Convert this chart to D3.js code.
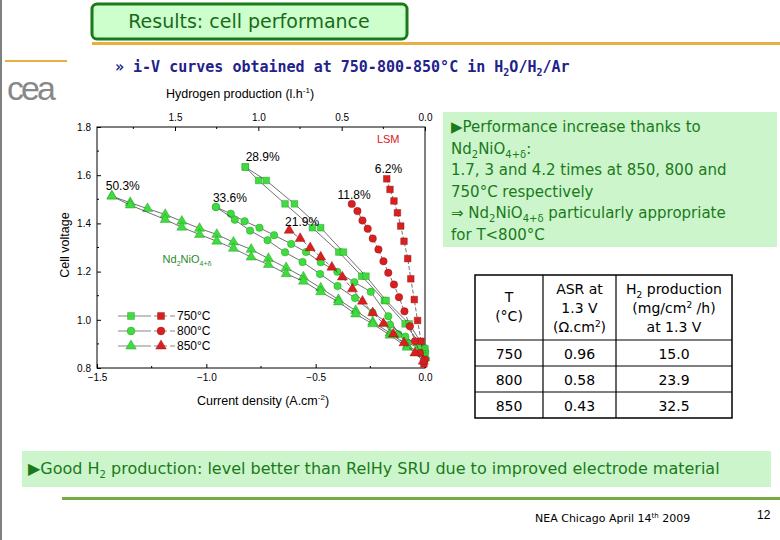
<!DOCTYPE html>
<html><head><meta charset="utf-8">
<script src="https://cdn.jsdelivr.net/npm/d3@7"></script>
<style>body{margin:0;background:#fff}</style>
</head><body><div id="slide"></div>
<script>
// data: [current density, cell voltage]
const nd750a = [[-0.822,1.634],[-0.761,1.578],[-0.640,1.481],[-0.515,1.382],[-0.394,1.281],[-0.289,1.181],[-0.186,1.080],[-0.091,0.983],[-0.008,0.883]];
const nd750b = [[-0.822,1.634],[-0.726,1.578],[-0.597,1.481],[-0.477,1.382],[-0.373,1.281],[-0.270,1.181],[-0.178,1.080],[-0.072,0.983],[0,0.88]];
const nd800a = [[-0.956,1.468],[-0.888,1.440],[-0.825,1.409],[-0.757,1.382],[-0.690,1.351],[-0.612,1.315],[-0.544,1.281],[-0.477,1.239],[-0.401,1.199],[-0.323,1.156],[-0.248,1.116],[-0.168,1.015],[-0.122,0.940],[-0.08,0.905],[0,0.87]];
const nd800b = [[-0.956,1.468],[-0.87,1.415],[-0.80,1.37],[-0.72,1.33],[-0.64,1.28],[-0.56,1.24],[-0.48,1.19],[-0.40,1.14],[-0.32,1.09],[-0.24,1.03],[-0.16,0.98],[-0.09,0.93],[-0.03,0.89],[0,0.86]];
const nd850a = [[-1.432,1.513],[-1.348,1.486],[-1.269,1.461],[-1.188,1.437],[-1.112,1.409],[-1.031,1.379],[-0.952,1.354],[-0.876,1.322],[-0.795,1.292],[-0.716,1.254],[-0.635,1.216],[-0.556,1.177],[-0.477,1.132],[-0.396,1.084],[-0.317,1.038],[-0.239,0.991],[-0.160,0.945],[-0.081,0.893],[0,0.85]];
const nd850b = [[-1.432,1.513],[-1.348,1.476],[-1.188,1.416],[-1.112,1.384],[-1.031,1.354],[-0.952,1.326],[-0.876,1.296],[-0.795,1.260],[-0.716,1.229],[-0.635,1.191],[-0.556,1.160],[-0.477,1.116],[-0.396,1.074],[-0.317,1.024],[-0.239,0.983],[-0.160,0.936],[-0.081,0.886],[0,0.842]];
const lsm750 = [[-0.175,1.585],[-0.160,1.541],[-0.142,1.493],[-0.126,1.444],[-0.111,1.389],[-0.096,1.326],[-0.079,1.254],[-0.065,1.170],[-0.049,1.084],[-0.034,0.997],[-0.018,0.911],[-0.005,0.817]];
const lsm800 = [[-0.335,1.481],[-0.309,1.451],[-0.286,1.412],[-0.262,1.378],[-0.239,1.337],[-0.213,1.292],[-0.190,1.243],[-0.168,1.195],[-0.142,1.146],[-0.119,1.094],[-0.094,1.035],[-0.069,0.973],[-0.046,0.911],[-0.023,0.862],[0,0.835]];
const lsm850 = [[-0.621,1.371],[-0.571,1.337],[-0.525,1.299],[-0.477,1.260],[-0.426,1.218],[-0.378,1.177],[-0.332,1.128],[-0.286,1.077],[-0.239,1.029],[-0.190,0.984],[-0.145,0.941],[-0.096,0.904],[-0.046,0.862],[-0.008,0.828]];
const pctLabels = [["28.9%",-0.82,1.66],["50.3%",-1.46,1.54],["33.6%",-0.97,1.49],["21.9%",-0.64,1.39],["11.8%",-0.40,1.50],["6.2%",-0.23,1.61]];
const tempLabels = ["750°C","800°C","850°C"];
const tableRows = [["750","0.96","15.0"],["800","0.58","23.9"],["850","0.43","32.5"]];

const W = 780, H = 540;
const GREEN = "#3fdc3f", GREEN_D = "#1f8f1f", RED = "#d92020", RED_D = "#8a1010";
const comic = "'Comic Sans MS','DejaVu Sans',sans-serif";

let svg = d3.select("#slide").append("svg").attr("width", W).attr("height", H)
  .style("font-family", "'Liberation Sans',Arial,sans-serif");

// slide decoration
svg.append("line").attr("x1",1).attr("x2",1).attr("y1",0).attr("y2",H).attr("stroke","#000");
svg.append("rect").attr("x",92).attr("y",4).attr("width",315).attr("height",35).attr("rx",5)
  .attr("fill","#ccffcc").attr("stroke","#1a7a1a").attr("stroke-width",3);
svg.append("text").attr("x",249).attr("y",28).attr("text-anchor","middle").attr("font-family",comic)
  .attr("font-size",19).attr("fill","#1a6a1a").text("Results: cell performance");
svg.append("rect").attr("x",92).attr("y",42).attr("width",688).attr("height",3).attr("fill","#e8b040");
svg.append("rect").attr("x",5).attr("y",60).attr("width",62).attr("height",2).attr("fill","#e8b040");
svg.append("text").attr("x",7).attr("y",100).attr("font-size",34).attr("fill","#888").attr("letter-spacing",-3).text("cea");
svg.append("text").attr("x",115).attr("y",72).attr("font-size",15).attr("font-weight","bold")
  .attr("font-family","'DejaVu Sans Mono',monospace").attr("fill","#22228a")
  .html('» i-V curves obtained at 750-800-850°C in H<tspan font-size="10" dy="4">2</tspan><tspan dy="-4">O/H</tspan><tspan font-size="10" dy="4">2</tspan><tspan dy="-4">/Ar</tspan>');

// chart
const x = d3.scaleLinear().domain([-1.5, 0]).range([97, 425]);
const y = d3.scaleLinear().domain([0.8, 1.8]).range([368, 127]);
const h2 = d3.scaleLinear().domain([0, 1.968]).range([425, 97]);

svg.append("rect").attr("x",97).attr("y",127).attr("width",328).attr("height",241)
  .attr("fill","none").attr("stroke","#000");
let fmt = d3.format(".1f");
let bx = svg.append("g").attr("transform","translate(0,368)")
  .call(d3.axisBottom(x).tickValues([-1.5,-1.0,-0.5,0]).tickFormat(fmt).tickSizeInner(-4).tickSizeOuter(0).tickPadding(6));
let tx = svg.append("g").attr("transform","translate(0,127)")
  .call(d3.axisTop(h2).tickValues([0,0.5,1.0,1.5]).tickFormat(fmt).tickSizeInner(-4).tickSizeOuter(0).tickPadding(6));
let ly = svg.append("g").attr("transform","translate(97,0)")
  .call(d3.axisLeft(y).tickValues([0.8,1.0,1.2,1.4,1.6,1.8]).tickFormat(fmt).tickSizeInner(-4).tickSizeOuter(0).tickPadding(6));
[bx, tx, ly].forEach(g => { g.select(".domain").remove(); g.selectAll("text").attr("font-size",10).attr("font-family","'Liberation Sans',Arial"); });
// minor ticks
svg.append("g").selectAll("line").data(d3.range(-1.25, 0, 0.5)).join("line")
  .attr("x1",d=>x(d)).attr("x2",d=>x(d)).attr("y1",368).attr("y2",366).attr("stroke","#000");
svg.append("g").selectAll("line").data([0.25,0.75,1.25,1.75]).join("line")
  .attr("x1",d=>h2(d)).attr("x2",d=>h2(d)).attr("y1",127).attr("y2",129).attr("stroke","#000");
svg.append("g").selectAll("line").data([0.9,1.1,1.3,1.5,1.7]).join("line")
  .attr("x1",97).attr("x2",99).attr("y1",d=>y(d)).attr("y2",d=>y(d)).attr("stroke","#000");

svg.append("text").attr("x",240).attr("y",98).attr("text-anchor","middle").attr("font-size",12.5)
  .html('Hydrogen production  (l.h<tspan font-size="8" dy="-5">-1</tspan><tspan dy="5">)</tspan>');
svg.append("text").attr("x",263).attr("y",405).attr("text-anchor","middle").attr("font-size",12.5)
  .html('Current density  (A.cm<tspan font-size="8" dy="-5">-2</tspan><tspan dy="5">)</tspan>');
svg.append("text").attr("transform","translate(69,245) rotate(-90)").attr("text-anchor","middle")
  .attr("font-size",12.5).text("Cell voltage");

const line = d3.line().x(d => x(d[0])).y(d => y(d[1]));
const series = [
  [nd750a, d3.symbolSquare, GREEN, GREEN_D, null],
  [nd750b, d3.symbolSquare, GREEN, GREEN_D, null],
  [nd800a, d3.symbolCircle, GREEN, GREEN_D, null],
  [nd800b, d3.symbolCircle, GREEN, GREEN_D, null],
  [nd850a, d3.symbolTriangle, GREEN, GREEN_D, null],
  [nd850b, d3.symbolTriangle, GREEN, GREEN_D, null],
  [lsm750, d3.symbolSquare, RED, RED_D, "4,2"],
  [lsm800, d3.symbolCircle, RED, RED_D, "4,2"],
  [lsm850, d3.symbolTriangle, RED, RED_D, "4,2"]
];
series.forEach(([data, sym, fill, stroke, dash]) => {
  svg.append("path").datum(data).attr("d", line).attr("fill","none")
    .attr("stroke","#333").attr("stroke-width",0.7).attr("stroke-dasharray", dash);
  svg.append("g").selectAll("path").data(data).join("path")
    .attr("d", d3.symbol(sym, 44))
    .attr("transform", d => `translate(${x(d[0])},${y(d[1])})`)
    .attr("fill", fill).attr("stroke", stroke).attr("stroke-width",0.4);
});

svg.append("g").selectAll("text").data(pctLabels).join("text")
  .attr("x", d => x(d[1])).attr("y", d => y(d[2])).attr("font-size",12).text(d => d[0]);
svg.append("text").attr("x",x(-0.22)).attr("y",y(1.735)).attr("font-size",11).attr("fill",RED).text("LSM");
svg.append("text").attr("x",x(-1.2)).attr("y",y(1.235)).attr("font-size",11).attr("fill","#2a8a2a")
  .html('Nd<tspan font-size="7" dy="3">2</tspan><tspan dy="-3">NiO</tspan><tspan font-size="7" dy="3">4+δ</tspan>');

// legend
const legSyms = [d3.symbolSquare, d3.symbolCircle, d3.symbolTriangle];
tempLabels.forEach((t, i) => {
  let ly0 = 316 + i * 15;
  svg.append("line").attr("x1",118).attr("x2",146).attr("y1",ly0).attr("y2",ly0).attr("stroke","#555").attr("stroke-width",0.7);
  svg.append("line").attr("x1",146).attr("x2",176).attr("y1",ly0).attr("y2",ly0).attr("stroke","#555").attr("stroke-width",0.7).attr("stroke-dasharray","5,3");
  svg.append("path").attr("d", d3.symbol(legSyms[i], 48)).attr("transform",`translate(131,${ly0})`).attr("fill",GREEN).attr("stroke",GREEN_D).attr("stroke-width",0.4);
  svg.append("path").attr("d", d3.symbol(legSyms[i], 48)).attr("transform",`translate(161,${ly0})`).attr("fill",RED).attr("stroke",RED_D).attr("stroke-width",0.4);
  svg.append("text").attr("x",177).attr("y",ly0+4).attr("font-size",12).text(t);
});

// right text box
svg.append("rect").attr("x",443).attr("y",112).attr("width",334).attr("height",135).attr("fill","#ccf5cc");
const boxLines = [
  '▶Performance increase thanks to',
  'Nd<tspan font-size="10" dy="4">2</tspan><tspan dy="-4">NiO</tspan><tspan font-size="10" dy="4">4+δ</tspan><tspan dy="-4">:</tspan>',
  '1.7, 3 and 4.2 times at 850, 800 and',
  '750°C respectively',
  '⇒ Nd<tspan font-size="10" dy="4">2</tspan><tspan dy="-4">NiO</tspan><tspan font-size="10" dy="4">4+δ</tspan><tspan dy="-4"> particularly appropriate</tspan>',
  'for T&lt;800°C'
];
boxLines.forEach((l, i) => svg.append("text").attr("x",451).attr("y",132 + i*21.5)
  .attr("font-family",comic).attr("font-size",15).attr("fill","#1a7a1a").html(l));

// table
const colX = [475, 543, 616, 732], rowY = [275, 340, 366, 392, 418];
let tg = svg.append("g").attr("font-family",comic).attr("font-size",14);
tg.append("rect").attr("x",475).attr("y",275).attr("width",257).attr("height",143).attr("fill","none").attr("stroke","#000").attr("stroke-width",1.5);
colX.slice(1,3).forEach(c => tg.append("line").attr("x1",c).attr("x2",c).attr("y1",275).attr("y2",418).attr("stroke","#000").attr("stroke-width",1.2));
rowY.slice(1,4).forEach(r => tg.append("line").attr("x1",475).attr("x2",732).attr("y1",r).attr("y2",r).attr("stroke","#000").attr("stroke-width",1.2));
const head = [
  ['T','(°C)'],
  ['ASR at','1.3 V','(Ω.cm<tspan font-size="9" dy="-5">2</tspan><tspan dy="5">)</tspan>'],
  ['H<tspan font-size="9" dy="4">2</tspan><tspan dy="-4"> production</tspan>','(mg/cm<tspan font-size="9" dy="-5">2</tspan><tspan dy="5"> /h)</tspan>','at 1.3 V']
];
head.forEach((h, c) => {
  let cx = (colX[c] + colX[c+1]) / 2, y0 = h.length === 2 ? 302 : 294;
  h.forEach((s, k) => tg.append("text").attr("x",cx).attr("y",y0 + k*19).attr("text-anchor","middle").html(s));
});
tableRows.forEach((r, i) => r.forEach((v, c) => tg.append("text")
  .attr("x",(colX[c]+colX[c+1])/2).attr("y",rowY[i+1]+19).attr("text-anchor","middle").text(v)));

// bottom
svg.append("rect").attr("x",22).attr("y",451).attr("width",749).attr("height",36).attr("fill","#ccf5cc");
svg.append("text").attr("x",28).attr("y",474).attr("font-family",comic).attr("font-size",16).attr("fill","#1a7a1a")
  .html('▶Good H<tspan font-size="10" dy="4">2</tspan><tspan dy="-4"> production: level better than RelHy SRU due to improved electrode material</tspan>');
svg.append("rect").attr("x",62).attr("y",497).attr("width",718).attr("height",3).attr("fill","#77aa44");
svg.append("text").attr("x",535).attr("y",522).attr("font-family",comic).attr("font-size",11)
  .html('NEA Chicago April 14<tspan font-size="7" dy="-4">th</tspan><tspan dy="4"> 2009</tspan>');
svg.append("text").attr("x",757).attr("y",519).attr("font-size",12).text("12");
</script></body></html>
